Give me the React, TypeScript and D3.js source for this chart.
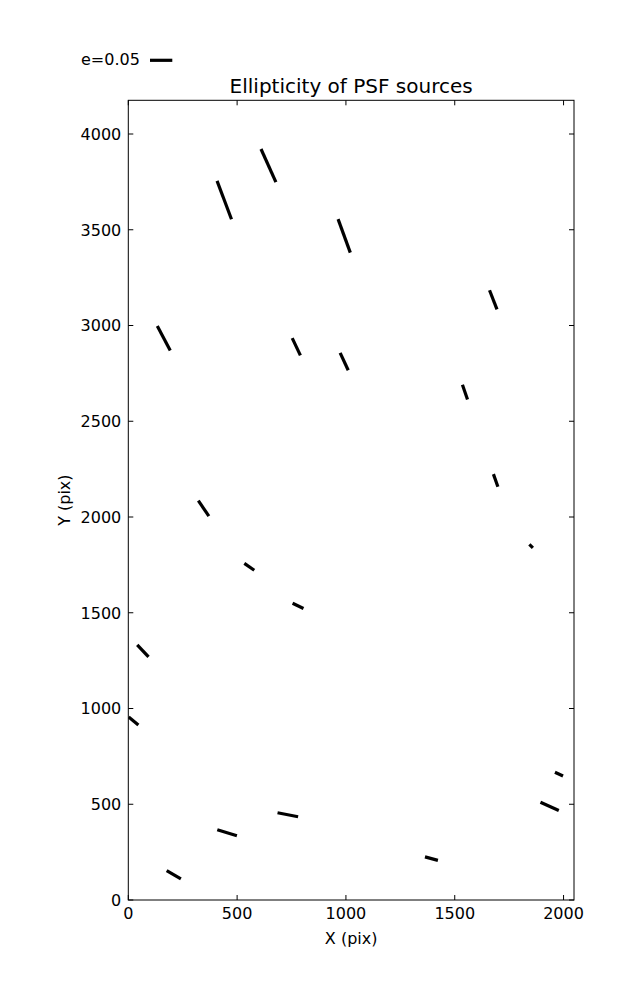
import React from "react";
import * as d3 from "d3";

// Source positions (pix), ellipticity, and orientation (degrees, CCW from +X on screen)
const srcX = [441, 644, 992, 163, 772, 992, 1677, 1547, 1688, 346, 1851, 556, 780, 67, 24, 209, 454, 733, 1393, 1936, 1979];
const srcY = [3655, 3835, 3468, 2933, 2889, 2812, 3134, 2652, 2191, 2045, 1848, 1740, 1536, 1301, 935, 132, 351, 445, 216, 489, 657];
const srcE = [0.092, 0.0815, 0.08, 0.062, 0.043, 0.043, 0.046, 0.035, 0.03, 0.042, 0.011, 0.027, 0.027, 0.037, 0.028, 0.037, 0.046, 0.047, 0.03, 0.045, 0.02];
const srcTheta = [110.6, 114.2, 110, 117.9, 115.2, 114.8, 111.3, 108.9, 109.5, 124.2, 135, 145.4, 154.7, 133.2, 140.7, 149.3, 162.8, 168.9, 165, 156, 155.2];

const xTicks = [0, 500, 1000, 1500, 2000];
const yTicks = [0, 500, 1000, 1500, 2000, 2500, 3000, 3500, 4000];
const legendE = 0.05;

const W = 637, H = 1000;
const L = 128.3, R = 574, T = 100.3, B = 900;
const FONT = "'DejaVu Sans', sans-serif";

export default function App() {
  const x = d3.scaleLinear().domain([0, 2048]).range([L, R]);
  const y = d3.scaleLinear().domain([0, 4176]).range([B, T]);
  const len = d3.scaleLinear().domain([0, 0.05]).range([0, 22.3]);

  const sticks = srcX.map((sx, i) => {
    const cx = x(sx), cy = y(srcY[i]);
    const h = len(srcE[i]) / 2;
    const a = (srcTheta[i] * Math.PI) / 180;
    const dx = h * Math.cos(a), dy = -h * Math.sin(a);
    return { x1: cx - dx, y1: cy - dy, x2: cx + dx, y2: cy + dy };
  });

  const tl = 5;
  return (
    <svg width={W} height={H} style={{ position: "absolute", left: 0, top: 0, background: "#fff" }}>
      <defs>
        <clipPath id="plot">
          <rect x={L} y={T} width={R - L} height={B - T} />
        </clipPath>
      </defs>
      <rect x={0} y={0} width={W} height={H} fill="#fff" />
      {/* legend */}
      <text x={81} y={65} fontFamily={FONT} fontSize={16} fill="#000">e=0.05</text>
      <line x1={150} x2={150 + len(legendE)} y1={60.3} y2={60.3} stroke="#000" strokeWidth={3.2} />
      {/* title */}
      <text x={(L + R) / 2} y={93} textAnchor="middle" fontFamily={FONT} fontSize={20} fill="#000">
        Ellipticity of PSF sources
      </text>
      {/* sticks */}
      <g clipPath="url(#plot)">
        {sticks.map((s, i) => (
          <line key={i} x1={s.x1} y1={s.y1} x2={s.x2} y2={s.y2} stroke="#000" strokeWidth={3.2} />
        ))}
      </g>
      {/* ticks */}
      <g stroke="#000" strokeWidth={1}>
        {xTicks.map((t) => (
          <g key={"xt" + t}>
            <line x1={x(t)} x2={x(t)} y1={B} y2={B - tl} />
            <line x1={x(t)} x2={x(t)} y1={T} y2={T + tl} />
          </g>
        ))}
        {yTicks.map((t) => (
          <g key={"yt" + t}>
            <line x1={L} x2={L + tl} y1={y(t)} y2={y(t)} />
            <line x1={R} x2={R - tl} y1={y(t)} y2={y(t)} />
          </g>
        ))}
      </g>
      <rect x={L} y={T} width={R - L} height={B - T} fill="none" stroke="#000" strokeWidth={1} />
      {/* tick labels */}
      {xTicks.map((t) => (
        <text key={"xl" + t} x={x(t)} y={919} textAnchor="middle" fontFamily={FONT} fontSize={16} fill="#000">
          {t}
        </text>
      ))}
      {yTicks.map((t) => (
        <text key={"yl" + t} x={L - 7} y={y(t)} dy="0.36em" textAnchor="end" fontFamily={FONT} fontSize={16} fill="#000">
          {t}
        </text>
      ))}
      {/* axis labels */}
      <text x={(L + R) / 2} y={944} textAnchor="middle" fontFamily={FONT} fontSize={16} fill="#000">X (pix)</text>
      <text
        transform={`translate(70,${(T + B) / 2}) rotate(-90)`}
        textAnchor="middle"
        fontFamily={FONT}
        fontSize={16}
        fill="#000"
      >
        Y (pix)
      </text>
    </svg>
  );
}
